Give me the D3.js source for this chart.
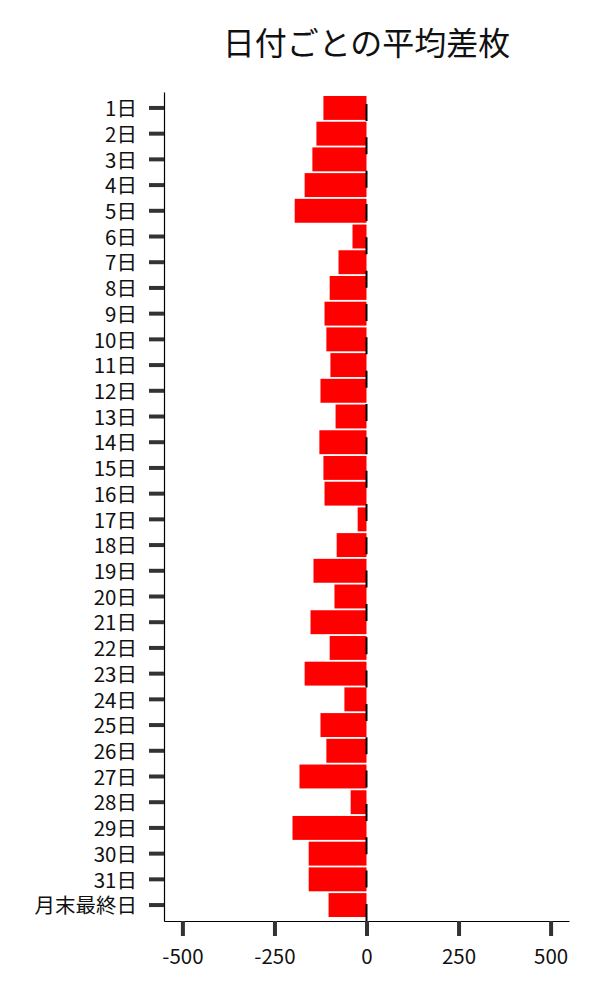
<!DOCTYPE html>
<html lang="ja">
<head>
  <meta charset="UTF-8">
  <title>日付ごとの平均差枚</title>
  <style>
    body { margin: 0; background: #ffffff; font-family: 'Noto Sans CJK JP', 'Noto Sans', sans-serif; }
    svg { display: block; }
    .tick text { fill: #111; }
  </style>
  <script src="https://d3js.org/d3.v7.min.js"></script>
</head>
<body>
  <div id="chart"></div>
  <script>
    // 日付ラベル
    const days = ['1日','2日','3日','4日','5日','6日','7日','8日','9日','10日',
                  '11日','12日','13日','14日','15日','16日','17日','18日','19日','20日',
                  '21日','22日','23日','24日','25日','26日','27日','28日','29日','30日',
                  '31日','月末最終日'];
    // 平均差枚
    const avgDiff = [-117, -136, -147, -168, -195, -38, -76, -100, -114, -109,
                     -98, -125, -84, -128, -117, -114, -24, -81, -144, -87,
                     -152, -100, -168, -60, -125, -109, -182, -43, -201, -157,
                     -157, -103];
    const xTicks = [-500, -250, 0, 250, 500];
    const xDomain = [-550, 550];

    const W = 600, H = 1000,
          M = { top: 92, right: 31, bottom: 79, left: 164 };

    const svg = d3.select('#chart').append('svg')
      .attr('width', W).attr('height', H);

    const x = d3.scaleLinear().domain(xDomain).range([M.left, W - M.right]);
    const y = d3.scaleBand().domain(days)
      .range([M.top, H - M.bottom])
      .paddingInner(0.07).paddingOuter(0.155);

    svg.append('text')
      .attr('x', (M.left + W - M.right) / 2).attr('y', 55)
      .attr('text-anchor', 'middle')
      .attr('font-size', 32).attr('fill', '#111')
      .text('日付ごとの平均差枚');

    svg.append('g').selectAll('rect')
      .data(days.map((d, i) => ({ day: d, v: avgDiff[i] })))
      .join('rect')
      .attr('x', d => x(Math.min(0, d.v)))
      .attr('y', d => y(d.day))
      .attr('width', d => Math.abs(x(d.v) - x(0)))
      .attr('height', y.bandwidth())
      .attr('fill', '#ff0000');

    // ゼロ線（破線）
    svg.append('line')
      .attr('x1', x(0)).attr('x2', x(0))
      .attr('y1', M.top).attr('y2', H - M.bottom)
      .attr('stroke', '#000').attr('stroke-width', 2)
      .attr('stroke-dasharray', '17,16.33')
      .attr('stroke-dashoffset', 21.33);

    const yAxis = svg.append('g')
      .attr('transform', `translate(${M.left},0)`)
      .call(d3.axisLeft(y).tickSize(15).tickSizeOuter(0).tickPadding(12));

    const xAxis = svg.append('g')
      .attr('transform', `translate(0,${H - M.bottom})`)
      .call(d3.axisBottom(x).tickValues(xTicks).tickFormat(d => String(d))
        .tickSize(15).tickSizeOuter(0).tickPadding(13));

    [yAxis, xAxis].forEach(g => {
      g.attr('font-family', null).attr('font-size', 20.5);
      g.select('.domain').attr('stroke', '#000').attr('stroke-width', 1.2);
      g.selectAll('.tick line').attr('stroke', '#333').attr('stroke-width', 4);
    });
    yAxis.selectAll('.tick text').attr('dy', '0.4em');
  </script>
</body>
</html>
